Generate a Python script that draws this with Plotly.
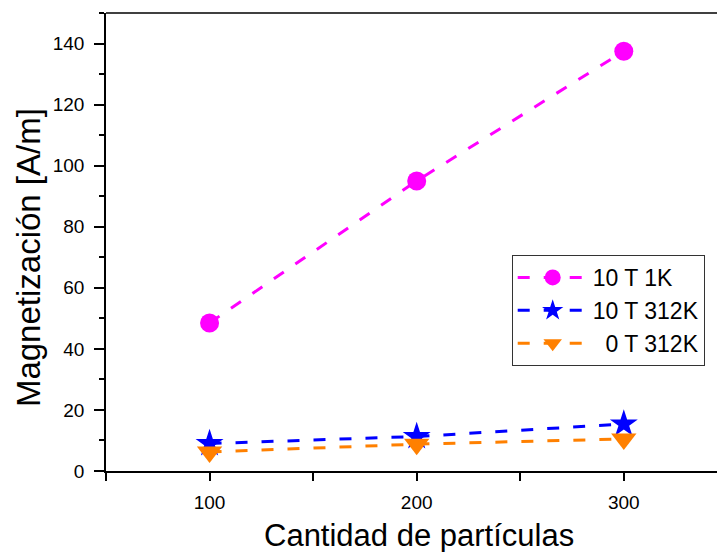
import plotly.graph_objects as go

# Number of particles simulated
particles = [100, 200, 300]

# Magnetization [A/m] for each field / temperature combination
mag_10T_1K = [48.5, 95.0, 137.5]
mag_10T_312K = [9.0, 11.3, 15.4]
mag_0T_312K = [6.2, 8.8, 10.5]

series = [
    ("10 T 1K", mag_10T_1K, "#FF00FF", "circle", 19),
    ("10 T 312K", mag_10T_312K, "#0000FF", "star", 21),
    ("&nbsp;&nbsp;0 T 312K", mag_0T_312K, "#FF8000", "triangle-down", 22),
]

x_tickvals = [50, 100, 150, 200, 250, 300, 350]
x_ticktext = ["", "100", "", "200", "", "300", ""]
y_tickvals = [0, 20, 40, 60, 80, 100, 120, 140]

fig = go.Figure()
for name, vals, color, symbol, size in series:
    fig.add_trace(go.Scatter(
        x=particles, y=vals, name=name, mode="lines+markers",
        line=dict(color=color, width=3, dash="12px,14px"),
        marker=dict(symbol=symbol, size=size, color=color, line=dict(width=0)),
    ))

font_family = "Arial, Liberation Sans, sans-serif"

fig.update_layout(
    width=717, height=552,
    margin=dict(l=106, r=0, t=13, b=81),
    paper_bgcolor="white", plot_bgcolor="white",
    font=dict(family=font_family, color="black", size=19),
    showlegend=True,
    legend=dict(
        x=0.664, y=0.4716, xanchor="left", yanchor="top",
        bordercolor="#333333", borderwidth=1, bgcolor="white",
        font=dict(size=23), itemwidth=70, tracegroupgap=0,
    ),
    xaxis=dict(
        range=[50, 345], tickvals=x_tickvals, ticktext=x_ticktext,
        ticks="outside", ticklen=8, tickwidth=1.5, tickcolor="black",
        showline=True, linecolor="black", linewidth=1.5, showgrid=False,
        zeroline=False, tickfont=dict(size=19), ticklabelstandoff=5,
    ),
    yaxis=dict(
        range=[0, 150], tickvals=y_tickvals,
        ticks="outside", ticklen=10, tickwidth=1.5, tickcolor="black",
        minor=dict(dtick=10, ticks="outside", ticklen=5, tickwidth=1.5, tickcolor="black", tick0=0),
        showline=True, linecolor="black", linewidth=1.5, showgrid=False,
        zeroline=False, tickfont=dict(size=19), ticklabelstandoff=6,
    ),
)

# axis titles
fig.add_annotation(text="Cantidad de partículas", xref="paper", yref="paper",
                   x=0.512, y=-0.1404, xanchor="center", yanchor="middle",
                   showarrow=False, font=dict(size=31))
fig.add_annotation(text="Magnetización [A/m]", xref="paper", yref="paper",
                   x=-0.1277, y=0.467, xanchor="center", yanchor="middle",
                   textangle=-90, showarrow=False, font=dict(size=33))

# top border of the frame
fig.add_shape(type="line", xref="paper", yref="paper", x0=0, x1=1, y0=1, y1=1,
              line=dict(color="black", width=1.5))

fig.write_html("out.html")
